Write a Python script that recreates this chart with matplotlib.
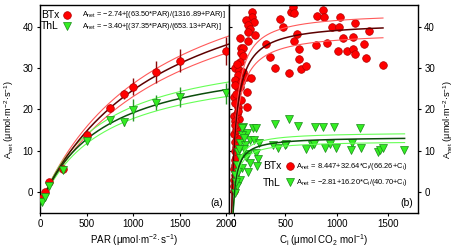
import numpy as np
import matplotlib
matplotlib.use("Agg")
import matplotlib.pyplot as plt

plt.rcParams['font.family'] = ['Liberation Sans', 'DejaVu Sans']
plt.rcParams['mathtext.fontset'] = 'custom'
plt.rcParams['mathtext.rm'] = 'Liberation Sans'
plt.rcParams['mathtext.it'] = 'Liberation Sans:italic'
plt.rcParams['axes.linewidth'] = 1.0

# (a) light response, means +- error
par = [20, 50, 100, 250, 500, 750, 900, 1000, 1250, 1500, 2000]
btx_par_a = [-1.4, 0.1, 2.4, 5.5, 13.8, 20.3, 23.7, 25.5, 29.0, 31.8, 34.1]
btx_par_err = [0.3, 0.3, 0.4, 0.6, 0.9, 1.0, 1.1, 2.0, 2.6, 2.7, 3.3]
thl_par_a = [-2.4, -1.1, 1.5, 5.4, 12.4, 17.4, 17.0, 19.9, 21.6, 22.9, 23.9]
thl_par_err = [0.3, 0.3, 0.4, 0.6, 0.8, 0.8, 0.9, 2.6, 1.8, 2.4, 2.5]

# fitted parameters a + b*x/(c+x): fit, upper band, lower band
btx_par_fit = [(-2.74, 63.50, 1316.89), (-2.74, 66.0, 1280.0), (-2.74, 61.0, 1360.0)]
thl_par_fit = [(-3.40, 37.35, 653.13), (-3.40, 39.5, 640.0), (-3.40, 35.3, 665.0)]
btx_ci_fit = [(8.447, 32.64, 66.26), (8.447, 35.0, 60.0), (8.447, 30.3, 73.0)]
thl_ci_fit = [(-2.81, 16.20, 40.70), (-2.81, 17.3, 38.0), (-2.81, 15.2, 44.0)]

# (b) CO2 response, individual measurements
btx_ci = [180, 180, 121, 202, 138, 160, 138, 212, 63, 138, 73, 95, 73, 89, 63, 17, 56, 89,
          41, 121, 170, 17, 73, 41, 128, 5, 5, 41, 17, 128, 73, 50, 17,
          3, 8, 6, 12, 4, 15, 9, 20, 11, 25, 16, 28, 8, 22, 35, 13, 30, 45, 25, 60, 10, 35,
          316, 357, 406, 451, 477, 536, 558, 575, 590, 590, 617, 633, 639, 655, 704, 801,
          811, 866, 876, 908, 956, 1012, 1021, 1037, 1060, 1102, 1157, 1157, 1183, 1183,
          1270, 1286, 1318, 1448]
btx_ci_a = [43.4, 42.4, 41.6, 41.0, 40.4, 39.4, 38.8, 38.0, 37.3, 36.6, 34.9, 34.8, 33.6,
            32.8, 31.5, 30.1, 29.5, 29.1, 28.3, 27.8, 27.5, 27.1, 26.7, 25.1, 24.1, 23.0,
            18.4, 20.7, 21.6, 20.5, 22.3, 17.6, 17.1,
            0.3, 1.5, 3.0, 4.2, 5.5, 6.5, 7.8, 8.6, 10.0, 11.0, 12.2, 13.0, 14.0, 15.0, 15.8,
            16.2, 19.0, 19.5, 23.8, 25.5, 26.0, 31.0,
            35.8, 32.6, 30.1, 41.9, 39.9, 28.9, 43.6, 44.6, 43.2, 36.4, 38.2, 34.5, 32.1,
            29.8, 30.5, 35.6, 42.6, 44.0, 42.3, 36.0, 39.9, 34.0, 39.9, 42.4, 37.2, 34.2,
            37.4, 34.5, 40.8, 33.4, 35.8, 32.5, 39.0, 30.6]
thl_ci = [406, 542, 623, 794, 872, 979, 1231,
          429, 510, 704, 762, 785, 891, 937, 995, 1150, 1141, 1238, 1400, 1422, 1454, 1658,
          89, 192, 134, 80, 160, 63, 112, 47, 144, 63, 160, 31, 80, 144, 15, 63, 31, 15,
          218, 240, 225, 100, 120, 40, 25, 55, 200, 384, 250, 100, 83, 218, 500]
thl_ci_a = [16.5, 17.8, 16.0, 15.8, 15.8, 15.8, 15.5,
            10.6, 11.6, 10.5, 11.4, 11.6, 10.8, 11.6, 10.8, 11.8, 10.2, 10.6, 9.8, 10.2,
            10.6, 10.2,
            15.7, 15.5, 14.3, 13.8, 12.6, 11.8, 11.4, 9.8, 9.3, 8.2, 7.0, 6.6, 5.8, 5.0,
            4.2, 3.0, 1.4, -0.2, 9.5, 8.0, 6.3, 10.5, 8.5, 5.0, 2.5, 10.5, 12.5, 11.4,
            11.9, 13.0, 15.6, 15.5, 11.4]

red = '#ff0000'
red_dark = '#5c0000'
red_band = '#ff5a5a'
red_err = '#8b0a0a'
green = '#33ee22'
green_dark = '#0b4d0b'
green_band = '#66ff55'
green_err = '#2a9a2a'

W, H = 456, 250
fig = plt.figure(figsize=(W / 100, H / 100), dpi=100)
ax1 = fig.add_axes([39.5 / W, 1 - 213 / H, (229 - 39.5) / W, 208 / H])
ax2 = fig.add_axes([229 / W, 1 - 213 / H, (418 - 229) / W, 208 / H])


def hyper(p, x):
    a, b, c = p
    return a + b * x / (c + x)


# ---- panel (a)
x = np.linspace(0, 2030, 300)
for fits, dark, band in [(btx_par_fit, red_dark, red_band), (thl_par_fit, green_dark, green_band)]:
    ax1.plot(x, hyper(fits[1], x), color=band, lw=0.8, zorder=2)
    ax1.plot(x, hyper(fits[2], x), color=band, lw=0.8, zorder=2)
    ax1.plot(x, hyper(fits[0], x), color=dark, lw=1.1, zorder=3)

ax1.errorbar(par, btx_par_a, yerr=btx_par_err, fmt='none', ecolor=red_err, elinewidth=1.0, zorder=4)
ax1.errorbar(par, thl_par_a, yerr=thl_par_err, fmt='none', ecolor=green_err, elinewidth=1.0, zorder=4)
ax1.plot(par, btx_par_a, 'o', ms=5.5, mfc=red, mec='#b00000', mew=0.5, zorder=5)
ax1.plot(par, thl_par_a, 'v', ms=5.5, mfc=green, mec='#1a8a1a', mew=0.5, zorder=6)

ax1.set_xlim(-5, 2030)
ax1.set_ylim(-5, 45.2)
ax1.set_xticks([0, 500, 1000, 1500, 2000])
ax1.set_yticks([0, 10, 20, 30, 40])
ax1.tick_params(axis='both', labelsize=7, length=2.5, width=0.8, direction='out', pad=2)
ax1.tick_params(axis='y', right=False)
ax1.set_xlabel(r'PAR (μmol·m$^{-2}$·s$^{-1}$)', fontsize=7, labelpad=2)
ax1.set_ylabel(r'A$_{\rm net}$ (μmol·m$^{-2}$·s$^{-1}$)', fontsize=6.6)
ax1.yaxis.set_label_coords(-0.122, 0.45)

# ---- panel (b)
ax2.plot(btx_ci, btx_ci_a, 'o', ms=5.5, mfc=red, mec='#b00000', mew=0.5, zorder=2)
xr = np.linspace(-30, 1450, 600)
ax2.plot(xr, hyper(btx_ci_fit[1], xr), color=red_band, lw=0.8, zorder=3)
ax2.plot(xr, hyper(btx_ci_fit[2], xr), color=red_band, lw=0.8, zorder=3)
ax2.plot(xr, hyper(btx_ci_fit[0], xr), color=red_dark, lw=1.1, zorder=3)
ax2.plot(thl_ci, thl_ci_a, 'v', ms=5.5, mfc=green, mec='#1a8a1a', mew=0.5, zorder=4)
xg = np.linspace(-30, 1660, 600)
ax2.plot(xg, hyper(thl_ci_fit[1], xg), color=green_band, lw=0.8, zorder=5)
ax2.plot(xg, hyper(thl_ci_fit[2], xg), color=green_band, lw=0.8, zorder=5)
ax2.plot(xg, hyper(thl_ci_fit[0], xg), color=green_dark, lw=1.1, zorder=5)

ax2.set_xlim(-45, 1790)
ax2.set_ylim(-5, 45.2)
ax2.set_xticks([0, 500, 1000, 1500])
ax2.set_yticks([0, 10, 20, 30, 40])
ax2.tick_params(axis='both', labelsize=7, length=2.5, width=0.8, direction='out', pad=2)
ax2.tick_params(axis='y', left=True, right=True, labelleft=False, labelright=True)
for t in ax2.yaxis.get_major_ticks():
    t.tick1line.set_marker(matplotlib.lines.TICKRIGHT)
ax2.set_xlabel(r'C$_{\rm i}$ (μmol CO$_2$ mol$^{-1}$)', fontsize=7, labelpad=2)
ax2.yaxis.set_label_position('right')
ax2.set_ylabel(r'A$_{\rm net}$ (μmol·m$^{-2}$·s$^{-1}$)', fontsize=6.6)
ax2.yaxis.set_label_coords(1.122, 0.45)


def fx(px, py):
    return px / W, 1 - py / H


# legends / equations
fig.text(*fx(41, 14.5), 'BTx', fontsize=7.5, va='center', ha='left')
fig.text(*fx(41, 26), 'ThL', fontsize=7.5, va='center', ha='left')
fig.lines.append(plt.Line2D([fx(66.5, 0)[0]], [fx(0, 14.5)[1]], marker='o', ms=5.5, mfc=red,
                            mec='#b00000', mew=0.5, ls='none', transform=fig.transFigure))
fig.lines.append(plt.Line2D([fx(66.5, 0)[0]], [fx(0, 25.5)[1]], marker='v', ms=5.5, mfc=green,
                            mec='#1a8a1a', mew=0.5, ls='none', transform=fig.transFigure))
fig.text(*fx(82.5, 14.5), r'A$_{\rm net}$ = −2.74+[(63.50*PAR)/(1316.89+PAR)]', fontsize=5.3,
         va='center', ha='left')
fig.text(*fx(82.5, 26), r'A$_{\rm net}$ = −3.40+[(37.35*PAR)/(653.13+PAR)]', fontsize=5.3,
         va='center', ha='left')

fig.text(*fx(263, 166), 'BTx', fontsize=7.5, va='center', ha='left')
fig.text(*fx(263, 182.5), 'ThL', fontsize=7.5, va='center', ha='left')
fig.lines.append(plt.Line2D([fx(290, 0)[0]], [fx(0, 166)[1]], marker='o', ms=5.5, mfc=red,
                            mec='#b00000', mew=0.5, ls='none', transform=fig.transFigure))
fig.lines.append(plt.Line2D([fx(290.5, 0)[0]], [fx(0, 182)[1]], marker='v', ms=5.5, mfc=green,
                            mec='#1a8a1a', mew=0.5, ls='none', transform=fig.transFigure))
fig.text(*fx(296.5, 166), r'A$_{\rm net}$ = 8.447+32.64*C$_{\rm i}$/(66.26+C$_{\rm i}$)',
         fontsize=5.4, va='center', ha='left')
fig.text(*fx(296.5, 182.5), r'A$_{\rm net}$ = −2.81+16.20*C$_{\rm i}$/(40.70+C$_{\rm i}$)',
         fontsize=5.4, va='center', ha='left')

fig.text(*fx(216.5, 203), '(a)', fontsize=7.5, va='center', ha='center')
fig.text(*fx(406.5, 203), '(b)', fontsize=7.5, va='center', ha='center')

fig.savefig('out.png', dpi=100)
